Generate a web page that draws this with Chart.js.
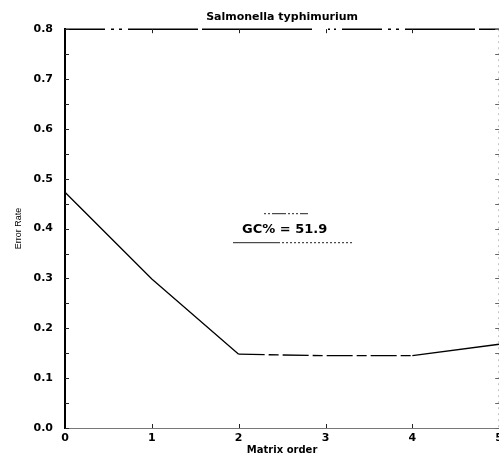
<!DOCTYPE html>
<html>
<head>
<meta charset="utf-8">
<title>Salmonella typhimurium</title>
<script src="https://cdn.jsdelivr.net/npm/chart.js@4/dist/chart.umd.min.js"></script>
<style>
    html, body { margin: 0; padding: 0; background: #fff; }
    #wrap { width: 499px; height: 459px; overflow: hidden; position: relative; }
    #wrap canvas { position: absolute; left: 0; top: 0; }
</style>
</head>
<body>
<div id="wrap">
    <canvas id="errChart" width="507" height="459"></canvas>
</div>
<script>
"use strict";

// error rate by matrix order
var matrixOrder = [0, 1, 2, 3, 4, 5];
var errorRate   = [0.473, 0.299, 0.148, 0.145, 0.145, 0.168];
var gcLabel     = "GC% = 51.9";
var xTicks      = [0, 1, 2, 3, 4, 5];
var yTicks      = [0, 0.1, 0.2, 0.3, 0.4, 0.5, 0.6, 0.7, 0.8];

var boldFont = "'DejaVu Sans', sans-serif";

// frame pieces the axes don't draw: broken top line, faint right edge,
// inward tick marks, and the little key with the GC label
var framePlugin = {
    id: 'frame',
    afterDraw: function(chart) {
        var ctx = chart.ctx;
        var a = chart.chartArea;
        var xs = chart.scales.x, ys = chart.scales.y;
        var v, i, px, py;

        ctx.save();
        ctx.strokeStyle = '#000';

        // top edge
        ctx.lineWidth = 1.5;
        ctx.setLineDash([40, 6, 3, 5, 3, 6, 70, 4, 110, 16, 2, 4, 2, 6]);
        ctx.beginPath();
        ctx.moveTo(a.left, a.top);
        ctx.lineTo(a.right, a.top);
        ctx.stroke();

        // right edge, faint
        ctx.strokeStyle = '#bbb';
        ctx.lineWidth = 1;
        ctx.setLineDash([2, 4]);
        ctx.beginPath();
        ctx.moveTo(a.right - 0.5, a.top);
        ctx.lineTo(a.right - 0.5, a.bottom);
        ctx.stroke();
        ctx.setLineDash([]);

        // inward y ticks every 0.05
        for (i = 0; i <= 16; i++) {
            v = i * 0.05;
            py = Math.round(ys.getPixelForValue(v)) + 0.5;
            ctx.strokeStyle = '#222';
            ctx.beginPath();
            ctx.moveTo(a.left, py);
            ctx.lineTo(a.left + 4, py);
            ctx.stroke();
            ctx.strokeStyle = '#666';
            ctx.beginPath();
            ctx.moveTo(a.right - 4, py);
            ctx.lineTo(a.right, py);
            ctx.stroke();
        }

        // inward x ticks
        ctx.strokeStyle = '#222';
        for (i = 1; i < xTicks.length - 1; i++) {
            px = Math.round(xs.getPixelForValue(xTicks[i])) + 0.5;
            ctx.beginPath();
            ctx.moveTo(px, a.top);
            ctx.lineTo(px, a.top + 4);
            ctx.moveTo(px, a.bottom);
            ctx.lineTo(px, a.bottom - 4);
            ctx.stroke();
        }

        // key
        var kx = a.left + 168, ky = a.top + 185;
        ctx.fillStyle = '#000';
        ctx.font = 'bold 13px ' + boldFont;
        ctx.textBaseline = 'alphabetic';
        ctx.fillText(gcLabel, kx + 9, ky + 19);

        ctx.lineWidth = 1;
        ctx.beginPath();
        ctx.moveTo(kx, ky + 28.5);
        ctx.lineTo(kx + 45, ky + 28.5);
        ctx.stroke();
        ctx.setLineDash([2, 2]);
        ctx.beginPath();
        ctx.moveTo(kx + 45, ky + 28.5);
        ctx.lineTo(kx + 120, ky + 28.5);
        ctx.stroke();

        ctx.setLineDash([2, 2, 2, 2, 14, 2, 2, 2]);
        ctx.beginPath();
        ctx.moveTo(kx + 31, ky - 0.5);
        ctx.lineTo(kx + 75, ky - 0.5);
        ctx.stroke();
        ctx.restore();
    }
};

var ctx = document.getElementById('errChart').getContext('2d');

new Chart(ctx, {
    type: 'line',
    data: {
        datasets: [{
            label: gcLabel,
            data: matrixOrder.map(function(x, i) { return { x: x, y: errorRate[i] }; }),
            borderColor: '#000',
            borderWidth: 1.3,
            pointRadius: 0,
            tension: 0,
            segment: {
                borderDash: function(c) {
                    return c.p0.parsed.x >= 2 && c.p0.parsed.x < 4 ? [26, 4, 10, 4] : undefined;
                }
            }
        }]
    },
    options: {
        responsive: false,
        animation: false,
        layout: { padding: { top: 1, left: 0, right: 0, bottom: 0 } },
        plugins: {
            legend: { display: false },
            tooltip: { enabled: false },
            title: {
                display: true,
                text: 'Salmonella typhimurium',
                fullSize: false,
                color: '#000',
                font: { family: boldFont, size: 11, weight: 'bold' },
                padding: { top: 10, bottom: 5 }
            }
        },
        scales: {
            x: {
                type: 'linear',
                min: 0,
                max: 5,
                afterFit: function(s) { s.height = 31; },
                border: { display: true, color: '#777', width: 1, dash: [1, 3] },
                grid: { display: false, drawTicks: false },
                ticks: {
                    stepSize: 1,
                    padding: 4,
                    color: '#000',
                    font: { family: boldFont, size: 11, weight: 'bold' },
                    callback: function(v) { return xTicks.indexOf(v) >= 0 ? String(v) : ''; }
                },
                title: {
                    display: true,
                    text: 'Matrix order',
                    color: '#000',
                    font: { family: boldFont, size: 10, weight: 'bold' },
                    padding: { top: 0, bottom: 3 }
                }
            },
            y: {
                min: 0,
                max: 0.8,
                afterFit: function(s) { s.width = 65; },
                border: { display: true, color: '#000', width: 2 },
                grid: { display: false, drawTicks: false },
                afterBuildTicks: function(s) {
                    s.ticks = yTicks.map(function(v) { return { value: v }; });
                },
                ticks: {
                    padding: 12,
                    color: '#000',
                    font: { family: boldFont, size: 11, weight: 'bold' },
                    callback: function(v) { return Number(v).toFixed(1); }
                },
                title: {
                    display: true,
                    text: 'Error Rate',
                    color: '#000',
                    font: { family: "'Liberation Sans Narrow', 'Liberation Sans', sans-serif", size: 9 },
                    padding: { top: 13, bottom: 0 }
                }
            }
        }
    },
    plugins: [framePlugin]
});
</script>
</body>
</html>
